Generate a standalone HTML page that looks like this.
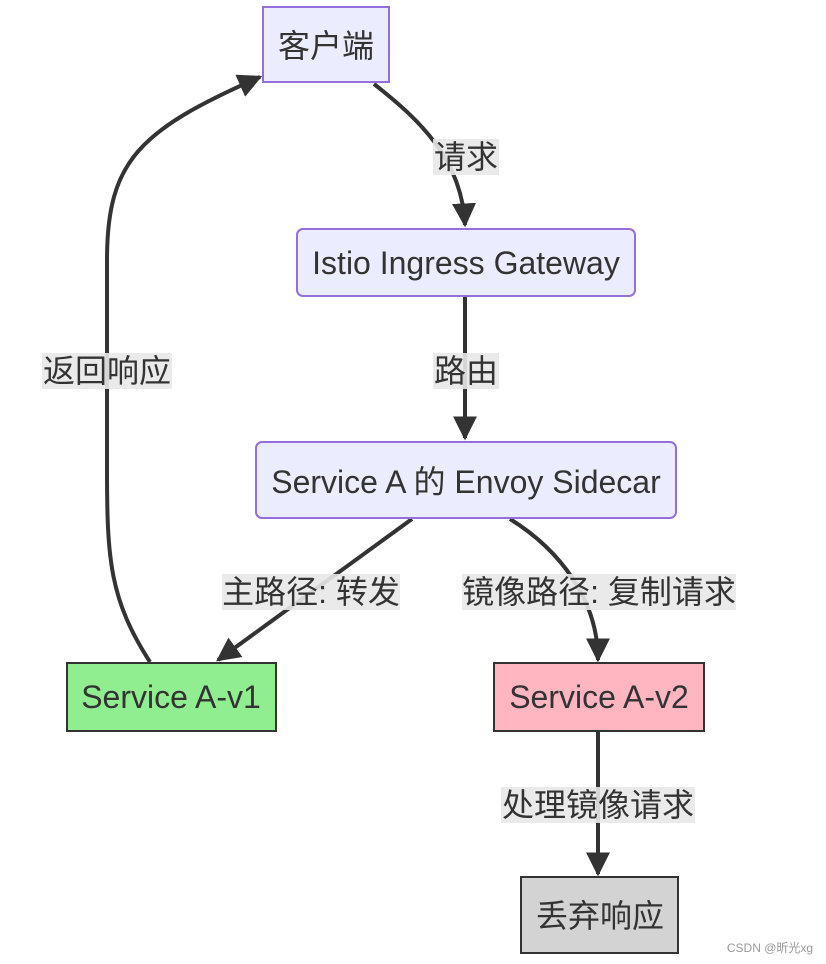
<!DOCTYPE html>
<html><head><meta charset="utf-8"><style>
html,body{margin:0;padding:0;background:#fff;width:826px;height:964px;overflow:hidden}
svg text{font-family:"Liberation Sans","Noto Sans CJK SC",sans-serif;font-size:32px;fill:#333}
</style></head><body>
<svg width="826" height="964" viewBox="0 0 826 964" xmlns="http://www.w3.org/2000/svg">
<defs><marker id="a" viewBox="0 0 10 10" refX="9" refY="5" markerWidth="6" markerHeight="6" orient="auto"><path d="M0,0L10,5L0,10z" fill="#333"/></marker></defs>
<g fill="none" stroke="#333" stroke-width="4">
<path d="M374,84 C420,120 462,160 465,225" marker-end="url(#a)"/>
<path d="M465,297 L465,438" marker-end="url(#a)"/>
<path d="M412,519 L218,660" marker-end="url(#a)"/>
<path d="M510,519 C560,550 598,600 598,660" marker-end="url(#a)"/>
<path d="M598,732 L598,874" marker-end="url(#a)"/>
<path d="M150,662 C110,600 107,560 107,470 L107,260 C107,160 140,130 260,77" marker-end="url(#a)"/>
</g>
<g>
<rect x="263" y="7" width="126" height="75" fill="#ececff" stroke="#9370db" stroke-width="2"/>
<text x="326" y="57" text-anchor="middle">客户端</text>
<rect x="297" y="229" width="338" height="67" rx="6" fill="#ececff" stroke="#9370db" stroke-width="2"/>
<text x="466" y="274" text-anchor="middle">Istio Ingress Gateway</text>
<rect x="256" y="442" width="420" height="76" rx="6" fill="#ececff" stroke="#9370db" stroke-width="2"/>
<text x="466" y="493" text-anchor="middle">Service A 的 Envoy Sidecar</text>
<rect x="67" y="663" width="209" height="68" fill="#90ee90" stroke="#333" stroke-width="2"/>
<text x="171" y="708" text-anchor="middle">Service A-v1</text>
<rect x="494" y="663" width="210" height="68" fill="#ffb6c1" stroke="#333" stroke-width="2"/>
<text x="599" y="708" text-anchor="middle">Service A-v2</text>
<rect x="521" y="877" width="157" height="76" fill="#d3d3d3" stroke="#333" stroke-width="2"/>
<text x="600" y="927" text-anchor="middle">丢弃响应</text>
</g>
<g fill="#e8e8e8" opacity="0.9">
<rect x="433" y="139" width="66" height="36"/>
<rect x="433" y="353" width="66" height="36"/>
<rect x="222" y="574" width="178" height="36"/>
<rect x="462" y="574" width="274" height="36"/>
<rect x="501" y="787" width="194" height="36"/>
<rect x="42" y="353" width="130" height="36"/>
</g>
<text x="466" y="168" text-anchor="middle">请求</text>
<text x="466" y="382" text-anchor="middle">路由</text>
<text x="311" y="603" text-anchor="middle">主路径: 转发</text>
<text x="599" y="603" text-anchor="middle">镜像路径: 复制请求</text>
<text x="598" y="816" text-anchor="middle">处理镜像请求</text>
<text x="107" y="382" text-anchor="middle">返回响应</text>
<text x="770" y="952" text-anchor="middle" style="font-size:12px;fill:#999">CSDN @昕光xg</text>
</svg>
</body></html>
